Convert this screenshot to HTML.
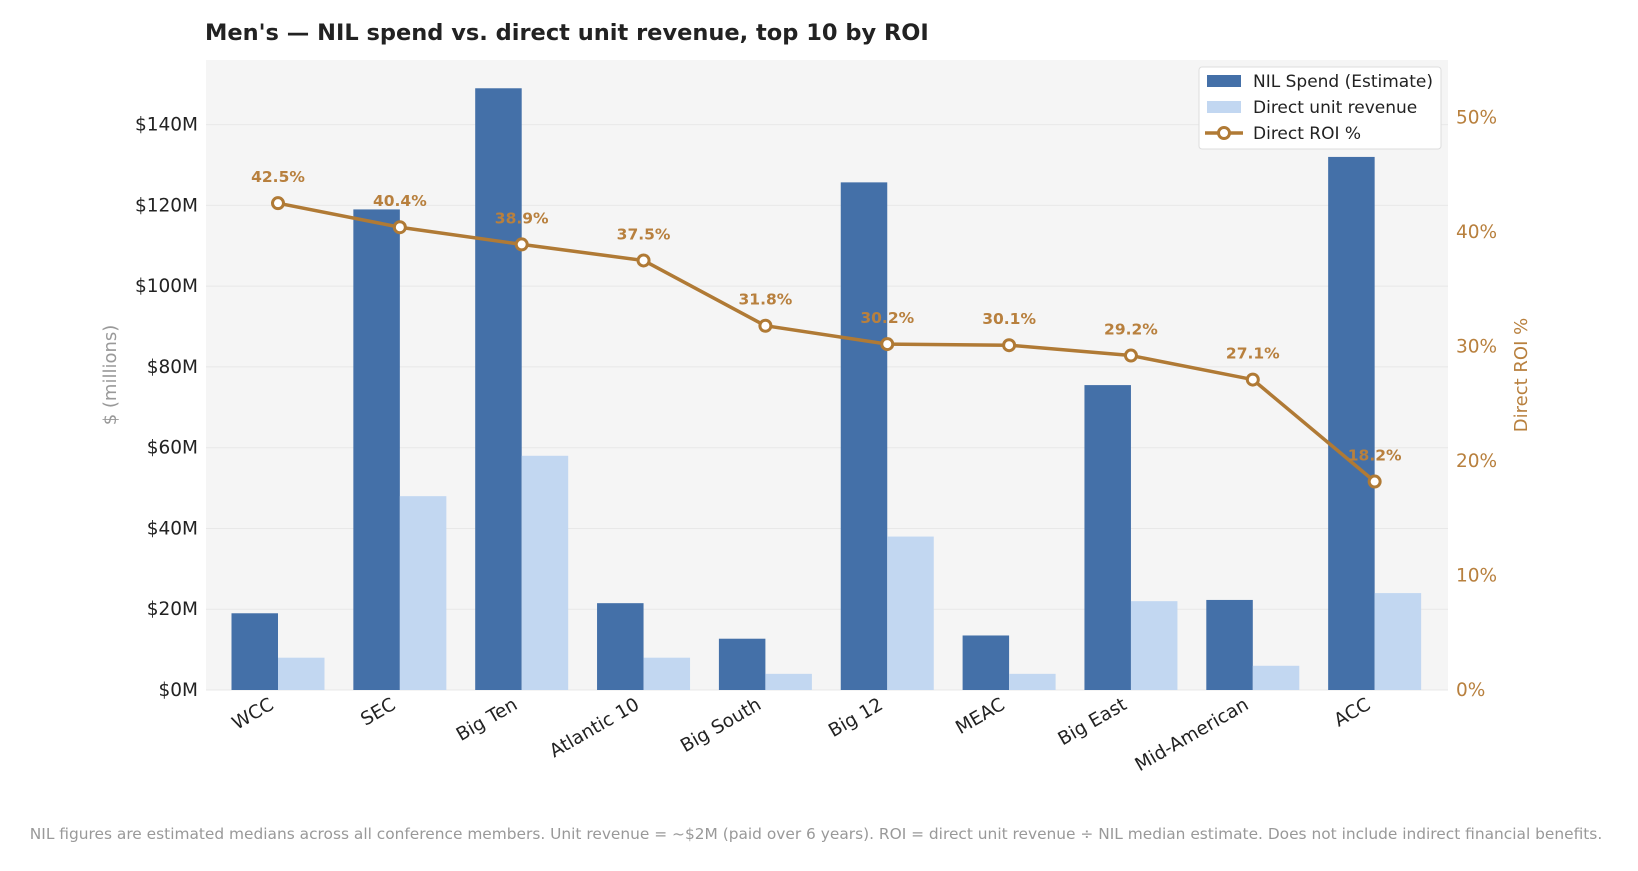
<!DOCTYPE html>
<html><head><meta charset="utf-8"><style>
body{margin:0;background:#fff;font-family:"Liberation Sans","DejaVu Sans",sans-serif;}
svg text{font-family:"DejaVu Sans","Liberation Sans",sans-serif;}
</style></head><body>
<svg id="c" width="1638" height="866"></svg>
<script>
const categories=["WCC","SEC","Big Ten","Atlantic 10","Big South","Big 12","MEAC","Big East","Mid-American","ACC"];
const nilSpend=[19,119,149,21.5,12.7,125.7,13.5,75.5,22.3,132];
const unitRevenue=[8,48,58,8,4,38,4,22,6,24];
const roi=[42.5,40.4,38.9,37.5,31.8,30.2,30.1,29.2,27.1,18.2];
const leftTicks=[0,20,40,60,80,100,120,140];
const rightTicks=[0,10,20,30,40,50];
const svg=document.getElementById('c');const NS='http://www.w3.org/2000/svg';
function el(t,a,p){const e=document.createElementNS(NS,t);for(const k in a)e.setAttribute(k,a[k]);(p||svg).appendChild(e);return e;}
const L=206,R=1448,T=60,B=690;
const yL=v=>B-v*(B-T)/156;
const yR=v=>B-v*(B-T)/55;
const xC=i=>278+121.85*i;
const bw=46.5;
let bg=el('rect',{x:L,y:T,width:R-L,height:B-T,fill:'#f5f5f5'});

let t=el('text',{x:205,y:40,'font-size':22.5,'font-weight':'bold',fill:'#222'});t.textContent="Men's — NIL spend vs. direct unit revenue, top 10 by ROI";

leftTicks.forEach(v=>{
  const g=el('line',{x1:L,x2:R,y1:yL(v),y2:yL(v),stroke:'#e8e8e8','stroke-width':1});
  
  const tx=el('text',{x:198,y:yL(v)+6,'font-size':18.5,'text-anchor':'end',fill:'#222'});tx.textContent='$'+v+'M';
  
});
rightTicks.forEach(v=>{
  const tx=el('text',{x:1456,y:yR(v)+6,'font-size':18.5,fill:'#b8803e'});tx.textContent=v+'%';
  
});
let yt=el('text',{x:0,y:0,'font-size':18,fill:'#999','text-anchor':'middle',transform:'translate(116,375) rotate(-90)'});yt.textContent='$ (millions)';

let rt=el('text',{x:0,y:0,'font-size':18,fill:'#b8803e','text-anchor':'middle',transform:'translate(1527,375) rotate(-90)'});rt.textContent='Direct ROI %';

categories.forEach((c,i)=>{
  const b1=el('rect',{x:xC(i)-bw,y:yL(nilSpend[i]),width:bw,height:B-yL(nilSpend[i]),fill:'#4470a8'});
  
  const b2=el('rect',{x:xC(i),y:yL(unitRevenue[i]),width:bw,height:B-yL(unitRevenue[i]),fill:'#c2d7f1'});
  
  const lb=el('text',{x:0,y:0,'font-size':18.5,fill:'#222','text-anchor':'end',transform:`translate(${xC(i)-3},708) rotate(-30)`});lb.textContent=c;
  
});
const pts=roi.map((v,i)=>xC(i)+','+yR(v)).join(' ');
const pl=el('polyline',{points:pts,fill:'none',stroke:'#b07a35','stroke-width':3.5});

roi.forEach((v,i)=>{
  const c=el('circle',{cx:xC(i),cy:yR(v),r:5.5,fill:'#fff',stroke:'#b07a35','stroke-width':3});
  
  const tx=el('text',{x:xC(i),y:yR(v)-21,'font-size':15.5,'font-weight':'bold',fill:'#b8803e','text-anchor':'middle'});tx.textContent=v.toFixed(1)+'%';
  
});
const lg=el('g',{});
el('rect',{x:1199,y:67,width:242,height:82,fill:'#fff',stroke:'#ddd',rx:3},lg);
el('rect',{x:1207,y:75,width:34,height:12,fill:'#4470a8'},lg);
el('rect',{x:1207,y:101,width:34,height:12,fill:'#c2d7f1'},lg);
el('line',{x1:1205,x2:1243,y1:133,y2:133,stroke:'#b07a35','stroke-width':3.5},lg);
el('circle',{cx:1224,cy:133,r:5.5,fill:'#fff',stroke:'#b07a35','stroke-width':3},lg);
[['NIL Spend (Estimate)',87],['Direct unit revenue',113],['Direct ROI %',139]].forEach(([s,y])=>{
  const tx=el('text',{x:1253,y:y,'font-size':17,fill:'#222'},lg);tx.textContent=s;
  
});
let f=el('text',{x:816,y:839,'font-size':15.4,fill:'#999','text-anchor':'middle'});
f.textContent='NIL figures are estimated medians across all conference members. Unit revenue = ~$2M (paid over 6 years). ROI = direct unit revenue ÷ NIL median estimate. Does not include indirect financial benefits.';

</script></body></html>
